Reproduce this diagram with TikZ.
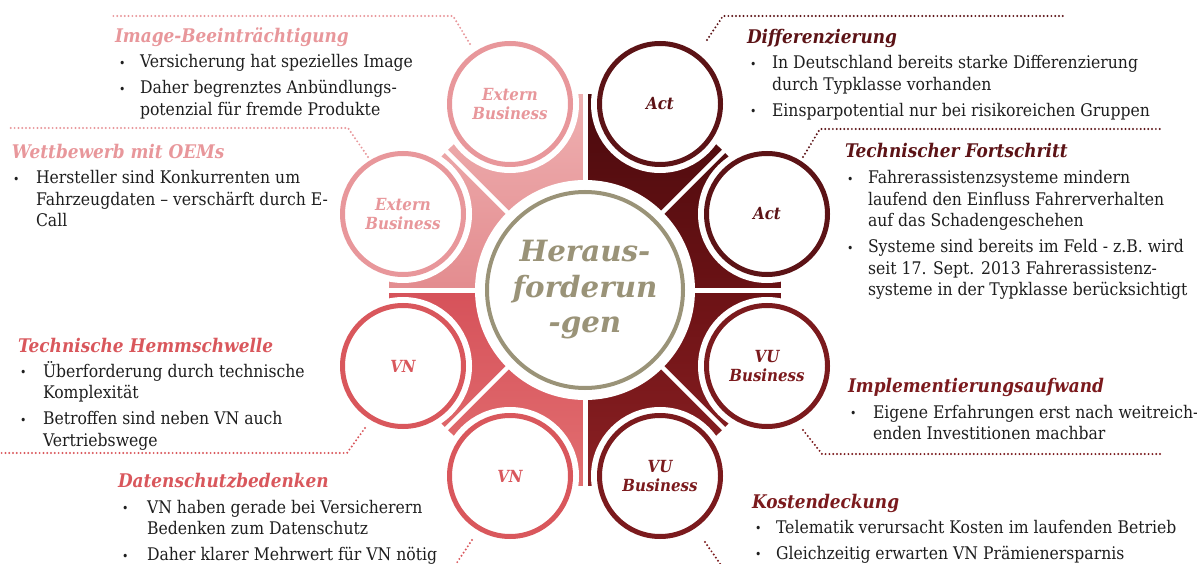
\documentclass[tikz,border=0pt]{standalone}
\usepackage{fontspec}
\setmainfont{DejaVu Serif}[FakeStretch=0.9]
\newfontfamily\ctrfam{DejaVu Serif}
\usetikzlibrary{calc}
\definecolor{cpink}{HTML}{E8979B}
\definecolor{cred}{HTML}{D9575C}
\definecolor{cmaroon}{HTML}{5C1316}
\definecolor{cdred}{HTML}{7B1A1D}
\definecolor{colive}{HTML}{9A9378}
\definecolor{ctext}{HTML}{1E1E1E}
\definecolor{qtlA}{HTML}{EFB1B2}
\definecolor{qtlB}{HTML}{E38C8F}
\definecolor{qblA}{HTML}{D6525A}
\definecolor{qblB}{HTML}{E26F71}
\definecolor{qtrA}{HTML}{4A0A0D}
\definecolor{qtrB}{HTML}{6A1215}
\definecolor{qbrA}{HTML}{6C1215}
\definecolor{qbrB}{HTML}{8C2124}
\newcommand\bodyfont{\fontsize{17.4}{21.5}\selectfont}
\newcommand\ttlfont{\fontsize{18.8}{20}\selectfont\bfseries\itshape}
\newcommand\satfont{\fontsize{16.7}{19}\selectfont\bfseries\itshape}
\newcommand\ctrfont{\ctrfam\fontsize{29.3}{35.5}\selectfont\bfseries\itshape}
\newcommand\bl{\raisebox{0.5pt}{\fontsize{12}{12}\selectfont\textbullet}}
\begin{document}
\begin{tikzpicture}[x=1pt,y=-1pt,
  every node/.style={inner sep=0pt, outer sep=0pt},
  sat/.style={circle, minimum size=121pt, line width=5pt, fill=white, draw=#1, text=#1,
    font=\satfont, align=center, preaction={draw=white, line width=17pt}},
  ttl/.style={anchor=base west, font=\ttlfont, text=#1},
  body/.style={anchor=base west, font=\bodyfont, text=ctext},
  dotline/.style={line width=2.2pt, line cap=round, dash pattern=on 0pt off 3.8pt, draw=#1},
  gap/.style={white, line width=#1}]
\useasboundingbox (0,0) rectangle (1197,564);
\coordinate (C) at (585,290);
% quadrant fills
\begin{scope}
  \clip (C) circle[radius=196pt];
  \shade[top color=qtlA, bottom color=qtlB] (C) rectangle ++(-200,-200);
  \shade[top color=qblA, bottom color=qblB] (C) rectangle ++(-200,200);
  \shade[top color=qtrA, bottom color=qtrB] (C) rectangle ++(200,-200);
  \shade[top color=qbrA, bottom color=qbrB] (C) rectangle ++(200,200);
\end{scope}
% gaps
\draw[gap=5pt] ($(C)+(-205,0)$) -- ($(C)+(205,0)$);
\draw[gap=5pt] ($(C)+(0,-205)$) -- ($(C)+(0,205)$);
\draw[gap=4.5pt] ($(C)+(-150,-150)$) -- ($(C)+(150,150)$);
\draw[gap=4.5pt] ($(C)+(-150,150)$) -- ($(C)+(150,-150)$);
% satellites
\node[sat=cpink] (s1) at (510,104) {Extern\\Business};
\node[sat=cmaroon] (s2) at (660,104) {Act};
\node[sat=cmaroon] (s3) at (767,214) {Act};
\node[sat=cdred] (s4) at (767,366) {VU\\Business};
\node[sat=cdred] (s5) at (660,476) {VU\\Business};
\node[sat=cred] (s6) at (510,476) {VN};
\node[sat=cred] (s7) at (403,366) {VN};
\node[sat=cpink] (s8) at (403,214) {Extern\\Business};
% centre
\node[circle, minimum size=196pt, line width=4pt, draw=colive, fill=white,
  preaction={draw=white, line width=24pt}, text=colive, font=\ctrfont, align=center]
  (ctr) at (C) {Heraus-\\forderun\\-gen};
% dotted leader lines
\coordinate (d1a) at (470,44); \coordinate (d1b) at (453,16); \coordinate (d1c) at (113,16);
\draw[dotline=cpink] (d1a) -- (d1b) -- (d1c);
\coordinate (d2a) at (368,157); \coordinate (d2b) at (348,128); \coordinate (d2c) at (8,128);
\draw[dotline=cpink] (d2a) -- (d2b) -- (d2c);
\coordinate (d3a) at (365,428); \coordinate (d3b) at (347,453); \coordinate (d3c) at (0,453);
\draw[dotline=cred] (d3a) -- (d3b) -- (d3c);
\coordinate (d4a) at (472,540); \coordinate (d4b) at (452,570);
\draw[dotline=cred] (d4a) -- (d4b);
\coordinate (d5a) at (707,40); \coordinate (d5b) at (723,16); \coordinate (d5c) at (1063,16);
\draw[dotline=cmaroon] (d5a) -- (d5b) -- (d5c);
\coordinate (d6a) at (803,157); \coordinate (d6b) at (820,129); \coordinate (d6c) at (1162,129);
\draw[dotline=cmaroon] (d6a) -- (d6b) -- (d6c);
\coordinate (d7a) at (803,430); \coordinate (d7b) at (822,454); \coordinate (d7c) at (1162,454);
\draw[dotline=cdred] (d7a) -- (d7b) -- (d7c);
\coordinate (d8a) at (705,542); \coordinate (d8b) at (723,568);
\draw[dotline=cdred] (d8a) -- (d8b);
% text blocks
\node[ttl=cpink] (t1) at (115,43) {Image-Beeinträchtigung};
\node[body] (b1) at (119,68) {\begin{tabular}[t]{@{}p{21pt}@{}l@{}}
\bl & Versicherung hat spezielles Image\\[4.5pt]
\bl & Daher begrenztes Anbündlungs-\\
 & potenzial für fremde Produkte\end{tabular}};
\node[ttl=cpink] (t2) at (12,159) {Wettbewerb mit OEMs};
\node[body] (b2) at (13,184) {\begin{tabular}[t]{@{}p{23pt}@{}l@{}}
\bl & Hersteller sind Konkurrenten um\\
 & Fahrzeugdaten – verschärft durch E-\\
 & Call\end{tabular}};
\node[ttl=cred] (t3) at (18,352) {Technische Hemmschwelle};
\node[body] (b3) at (20,377) {\begin{tabular}[t]{@{}p{23pt}@{}l@{}}
\bl & Überforderung durch technische\\
 & Komplexität\\[4.5pt]
\bl & Betroffen sind neben VN auch\\
 & Vertriebswege\end{tabular}};
\node[ttl=cred] (t4) at (118,487) {Datenschutzbedenken};
\node[body] (b4) at (122,513) {\begin{tabular}[t]{@{}p{25pt}@{}l@{}}
\bl & VN haben gerade bei Versicherern\\
 & Bedenken zum Datenschutz\\[4.5pt]
\bl & Daher klarer Mehrwert für VN nötig\end{tabular}};
\node[ttl=cmaroon] (t5) at (747,44) {Differenzierung};
\node[body] (b5) at (750,69) {\begin{tabular}[t]{@{}p{22pt}@{}l@{}}
\bl & In Deutschland bereits starke Differenzierung\\
 & durch Typklasse vorhanden\\[4.5pt]
\bl & Einsparpotential nur bei risikoreichen Gruppen\end{tabular}};
\node[ttl=cmaroon] (t6) at (845,158) {Technischer Fortschritt};
\node[body] (b6) at (847,184) {\begin{tabular}[t]{@{}p{21pt}@{}l@{}}
\bl & Fahrerassistenzsysteme mindern\\
 & laufend den Einfluss Fahrerverhalten\\
 & auf das Schadengeschehen\\[4.5pt]
\bl & Systeme sind bereits im Feld - z.B. wird\\
 & seit 17. Sept. 2013 Fahrerassistenz-\\
 & systeme in der Typklasse berücksichtigt\end{tabular}};
\node[ttl=cdred] (t7) at (848,392) {Implementierungsaufwand};
\node[body] (b7) at (850,418) {\begin{tabular}[t]{@{}p{23pt}@{}l@{}}
\bl & Eigene Erfahrungen erst nach weitreich-\\
 & enden Investitionen machbar\end{tabular}};
\node[ttl=cdred] (t8) at (752,508) {Kostendeckung};
\node[body] (b8) at (755,533) {\begin{tabular}[t]{@{}p{21pt}@{}l@{}}
\bl & Telematik verursacht Kosten im laufenden Betrieb\\[4.5pt]
\bl & Gleichzeitig erwarten VN Prämienersparnis\end{tabular}};
\end{tikzpicture}
\end{document}
